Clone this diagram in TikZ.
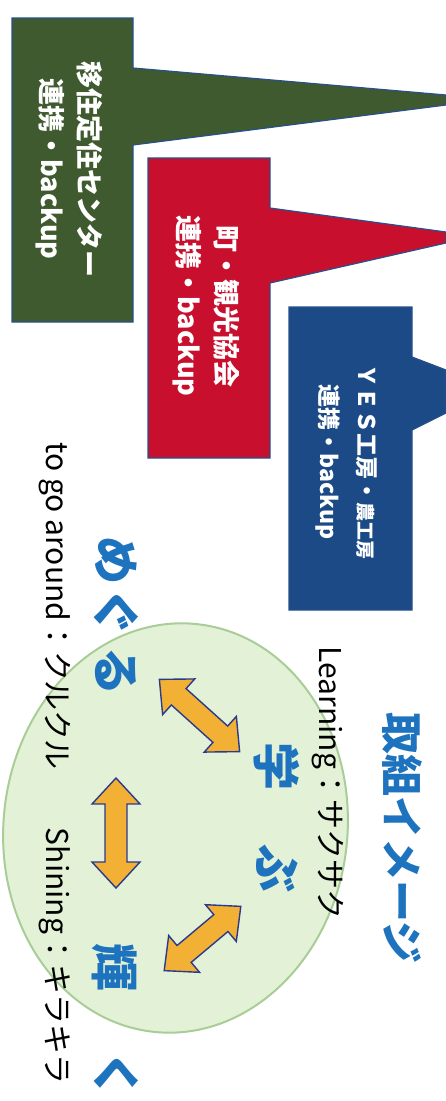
\documentclass[tikz,border=0pt]{standalone}
\usepackage{fontspec}
\setmainfont{Noto Sans CJK JP}
\definecolor{calgreen}{HTML}{3F5A2F}
\definecolor{calred}{HTML}{C8102E}
\definecolor{calblue}{HTML}{1B4A86}
\definecolor{edgeblue}{HTML}{27508C}
\definecolor{titleblue}{HTML}{1E73BE}
\definecolor{ellfill}{HTML}{E3F2D6}
\definecolor{elledge}{HTML}{A8CD97}
\definecolor{arrfill}{HTML}{F2B134}
\definecolor{arredge}{HTML}{2B3A8C}
\begin{document}
\begin{tikzpicture}[x=1pt,y=-1pt,
  callout/.style={draw=edgeblue, line width=1.2pt, line join=miter},
  calltext/.style={text=white, font=\bfseries\fontsize{27}{38}\selectfont, align=center, rotate=-90, inner sep=0pt},
  bigchar/.style={text=titleblue, font=\bfseries\fontsize{48}{48}\selectfont, rotate=-90, inner sep=0pt},
  plaintext/.style={text=black, font=\fontsize{30}{30}\selectfont, rotate=-90, inner sep=0pt},
  pics/dblarrow/.style={code={
    \draw[fill=arrfill, draw=arredge, line width=1.4pt, line join=miter]
      ({-#1},0) -- ({-#1+26},24) -- ({-#1+26},11) -- ({#1-26},11) -- ({#1-26},24)
      -- ({#1},0) -- ({#1-26},-24) -- ({#1-26},-11) -- ({-#1+26},-11) -- ({-#1+26},-24) -- cycle;}}
]
\useasboundingbox (0,0) rectangle (446,1101);
% callouts
\draw[callout, fill=calgreen] (12,18) -- (133,18) -- (133,68) -- (446,95) -- (446,105) -- (133,145) -- (133,322) -- (12,322) -- cycle;
\draw[callout, fill=calred] (148,158) -- (270,158) -- (270,208) -- (446,232) -- (446,243) -- (270,283) -- (270,458) -- (148,458) -- cycle;
\draw[callout, fill=calblue] (289,307) -- (412,307) -- (412,357) -- (446,370) -- (446,413) -- (412,430) -- (412,610) -- (289,610) -- cycle;
\node[calltext] (tgreen) at (69,169) {移住定住センター\\連携・backup};
\node[calltext] (tred) at (206,306) {町・観光協会\\連携・backup};
\node[calltext, font=\bfseries\fontsize{23}{38}\selectfont] (tblue) at (346,462) {ＹＥＳ工房・{\fontsize{19}{19}\selectfont 農工房}\\連携・backup};
% ellipse
\draw[fill=ellfill, draw=elledge, line width=2pt, rotate around={-6:(175.5,828)}] (175.5,828) ellipse [x radius=172, y radius=205];
% title and labels
\node[bigchar, font=\bfseries\fontsize{42}{42}\selectfont] (title) at (402,838) {取組イメージ};
\node[plaintext] (learn) at (328,783) {Learning：サクサク};
\node[plaintext] (around) at (55,606) {to go around：クルクル};
\node[plaintext] (shine) at (55,956) {Shining：キラキラ};
% big characters
\node[bigchar] (me) at (116,560) {め};
\node[bigchar] (gu) at (116,612) {ぐ};
\node[bigchar] (ru) at (116,671) {る};
\node[bigchar] (mana) at (277,766) {学};
\node[bigchar] (bu) at (277,868) {ぶ};
\node[bigchar] (kaga) at (115,967) {輝};
\node[bigchar] (ku) at (116,1075) {く};
% arrows
\pic[rotate=-42] at (199.5,715.5) {dblarrow=54};
\pic[rotate=90] at (116,833) {dblarrow=55};
\pic[rotate=40] at (202.5,938.5) {dblarrow=50};
\end{tikzpicture}
\end{document}
